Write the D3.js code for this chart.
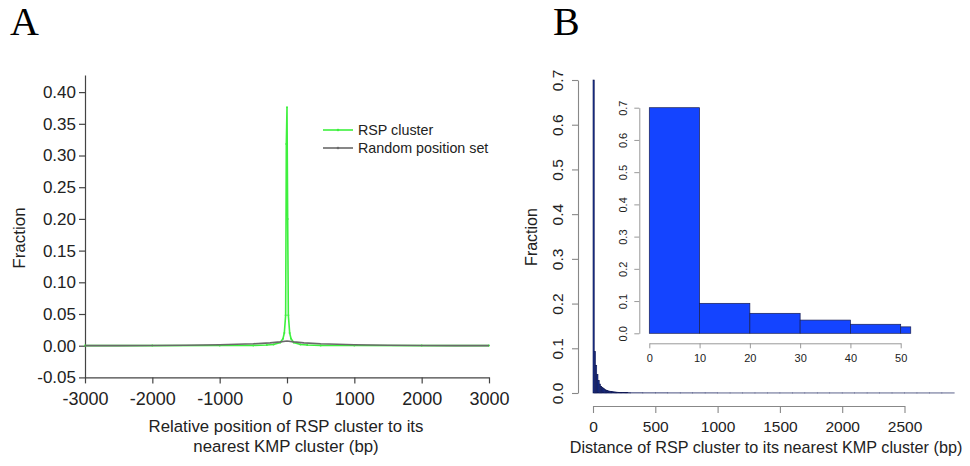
<!DOCTYPE html>
<html><head><meta charset="utf-8">
<script src="https://cdn.jsdelivr.net/npm/d3@7"></script>
<style>body{margin:0;background:#fff;} svg{display:block;}</style>
</head><body>
<svg id="c" width="970" height="466"></svg>
<script>
// ---------- Panel A data ----------
const rspPos   = [-3000,-2000,-1000,-500,-300,-200,-100,-60,-40,-20,-10,0,10,20,40,60,100,200,300,500,1000,2000,3000];
const rspFrac  = [0.0002,0.0002,0.0003,0.0005,0.001,0.002,0.005,0.011,0.02,0.048,0.318,0.376,0.2,0.048,0.02,0.011,0.005,0.002,0.001,0.0005,0.0003,0.0002,0.0002];
const randPos  = [-3000,-2500,-2000,-1500,-1000,-500,-250,-100,0,100,250,500,1000,1500,2000,2500,3000];
const randFrac = [0.0001,0.0002,0.0004,0.0008,0.0015,0.003,0.0045,0.006,0.0075,0.006,0.0045,0.003,0.0015,0.0008,0.0004,0.0002,0.0001];
const aYTicks  = [-0.05,0,0.05,0.10,0.15,0.20,0.25,0.30,0.35,0.40];
const aXTicks  = [-3000,-2000,-1000,0,1000,2000,3000];
const legendLabels = ["RSP cluster","Random position set"];

// ---------- Panel B data ----------
const histBinWidth = 10;
const histFrac = [0.70,0.093,0.062,0.041,0.028,0.020,0.015,0.012,0.010,0.008,
                  0.0065,0.0055,0.0045,0.004,0.0035,0.003,0.0026,0.0023,0.002,0.0018,
                  0.0016,0.0014,0.0012,0.0011,0.001,0.0009,0.0008,0.0007,0.0006,0.0005];
const tailStart = 300, tailBinWidth = 100;
const tailFrac = [0.0004,0.0003,0.0003,0.0002,0.0002,0.0002,0.0002,0.0001,0.0001,0.0001,
                  0.0001,0.0001,0.0001,0.0001,0.0001,0.0001,0.0001,0.0001,0.0001,0.0001,
                  0.0001,0.0001,0.0001,0.0001,0.0001,0.0001];
const bYTicks = [0,0.1,0.2,0.3,0.4,0.5,0.6,0.7];
const bXTicks = [0,500,1000,1500,2000,2500];
const insetBreaks = [0,10,20,30,40,50,52];
const insetFrac = [0.70,0.093,0.062,0.041,0.028,0.020];
const insetYTicks = [0,0.1,0.2,0.3,0.4,0.5,0.6,0.7];
const insetXTicks = [0,10,20,30,40,50];

const svg = d3.select("#c");
const sans = "Liberation Sans, Arial, sans-serif";
const hyph = s => String(s).replace("\u2212","-");

// Panel letters
svg.append("text").attr("x",10).attr("y",35).text("A")
  .attr("font-family","Liberation Serif, serif").attr("font-size",40);
svg.append("text").attr("x",553).attr("y",35).text("B")
  .attr("font-family","Liberation Serif, serif").attr("font-size",40);

// ================= Panel A =================
const ax = d3.scaleLinear().domain([-3000,3000]).range([85,489]);
const ay = d3.scaleLinear().domain([-0.05,0.427]).range([377.4,75]);
const gA = svg.append("g");

const f2 = d3.format(".2f");
const yAxA = gA.append("g").attr("transform","translate(85,0)")
  .call(d3.axisLeft(ay).tickValues(aYTicks).tickFormat(d=>hyph(f2(d))).tickSize(6).tickSizeOuter(0));
const xAxA = gA.append("g").attr("transform","translate(0,377.4)")
  .call(d3.axisBottom(ax).tickValues(aXTicks).tickFormat(d=>hyph(d3.format("d")(d))).tickSize(6).tickSizeOuter(0));
[yAxA,xAxA].forEach(a=>{
  a.selectAll("path,line").attr("stroke","#444").attr("stroke-width",1.2);
  a.selectAll("text").attr("font-family",sans).attr("fill","#222");
});
yAxA.selectAll("text").attr("font-size",17).attr("x",-9);
xAxA.selectAll("text").attr("font-size",18).attr("dy","1.05em");

gA.append("text").attr("transform","translate(25,238) rotate(-90)").attr("text-anchor","middle")
  .attr("font-family",sans).attr("font-size",17).attr("fill","#222").text("Fraction");
gA.append("text").attr("x",286).attr("y",432).attr("text-anchor","middle")
  .attr("font-family",sans).attr("font-size",16.8).attr("fill","#222").text("Relative position of RSP cluster to its");
gA.append("text").attr("x",286).attr("y",452).attr("text-anchor","middle")
  .attr("font-family",sans).attr("font-size",16.8).attr("fill","#222").text("nearest KMP cluster (bp)");

const lineA = d3.line().x(d=>ax(d[0])).y(d=>ay(d[1]));
const rspData = rspPos.map((p,i)=>[p,rspFrac[i]]);
const randData = randPos.map((p,i)=>[p,randFrac[i]]);
const greenC = "#3ef03e", greyC = "#6a6a6a";
gA.append("path").datum(rspData).attr("d",lineA).attr("fill","none").attr("stroke",greenC).attr("stroke-width",1.6);
gA.selectAll(".gd").data(rspData).enter().append("circle")
  .attr("cx",d=>ax(d[0])).attr("cy",d=>ay(d[1])).attr("r",1).attr("fill",greenC);
gA.append("path").datum(randData).attr("d",lineA).attr("fill","none").attr("stroke",greyC).attr("stroke-width",1.6);

// legend
const legColors = [greenC, greyC];
legendLabels.forEach((t,i)=>{
  const y = 130 + i*18;
  gA.append("line").attr("x1",323).attr("x2",353).attr("y1",y).attr("y2",y).attr("stroke",legColors[i]).attr("stroke-width",1.6);
  gA.append("circle").attr("cx",338).attr("cy",y).attr("r",1.3).attr("fill",legColors[i]);
  gA.append("text").attr("x",358).attr("y",y).attr("dy","0.35em").attr("font-family",sans)
    .attr("font-size",14.3).attr("fill","#222").text(t);
});

// ================= Panel B =================
const bx = d3.scaleLinear().domain([0,2500]).range([593,904.5]);
const by = d3.scaleLinear().domain([0,0.7]).range([393,80]);
const gB = svg.append("g");
const mainBars = histFrac.map((v,i)=>({x0:i*histBinWidth,x1:(i+1)*histBinWidth,v}))
  .concat(tailFrac.map((v,i)=>({x0:tailStart+i*tailBinWidth,x1:tailStart+(i+1)*tailBinWidth,v})));
gB.selectAll(".mb").data(mainBars).enter().append("rect")
  .attr("x",d=>bx(d.x0)).attr("width",d=>bx(d.x1)-bx(d.x0))
  .attr("y",d=>by(d.v)).attr("height",d=>by(0)-by(d.v))
  .attr("fill","#1d3595").attr("stroke","#0c1450").attr("stroke-width",0.6);

const yAxB = gB.append("g").attr("transform","translate(578,0)")
  .call(d3.axisLeft(by).tickValues(bYTicks).tickFormat(d3.format(".1f")).tickSize(6).tickSizeOuter(0));
const xAxB = gB.append("g").attr("transform","translate(0,406)")
  .call(d3.axisBottom(bx).tickValues(bXTicks).tickFormat(d3.format("d")).tickSize(7).tickSizeOuter(0));
[yAxB,xAxB].forEach(a=>{
  a.selectAll("path,line").attr("stroke","#888").attr("stroke-width",1.1);
  a.selectAll("text").attr("font-family",sans).attr("fill","#222").attr("font-size",15.5);
});
yAxB.selectAll("text").attr("x",null).attr("dy",null).attr("text-anchor","middle")
  .attr("transform","translate(-15,0) rotate(-90)").attr("dy","0em");
xAxB.selectAll("text").attr("dy","1.05em");

gB.append("text").attr("transform","translate(537,237) rotate(-90)").attr("text-anchor","middle")
  .attr("font-family",sans).attr("font-size",16).attr("fill","#222").text("Fraction");
gB.append("text").attr("x",766).attr("y",453).attr("text-anchor","middle")
  .attr("font-family",sans).attr("font-size",16.2).attr("fill","#222").text("Distance of RSP cluster to its nearest KMP cluster (bp)");

// ---- inset ----
const ix = d3.scaleLinear().domain([0,50]).range([649.3,900.7]);
const iy = d3.scaleLinear().domain([0,0.7]).range([333.3,107.7]);
const gI = svg.append("g");
const insetBars = insetFrac.map((v,i)=>({x0:insetBreaks[i],x1:insetBreaks[i+1],v}));
gI.selectAll(".ib").data(insetBars).enter().append("rect")
  .attr("x",d=>ix(d.x0)).attr("width",d=>ix(d.x1)-ix(d.x0))
  .attr("y",d=>iy(d.v)).attr("height",d=>iy(0)-iy(d.v))
  .attr("fill","#1444ff").attr("stroke","#1a2050").attr("stroke-width",0.7);
const yAxI = gI.append("g").attr("transform","translate(639.3,0)")
  .call(d3.axisLeft(iy).tickValues(insetYTicks).tickFormat(d3.format(".1f")).tickSize(5).tickSizeOuter(0));
const xAxI = gI.append("g").attr("transform","translate(0,343.3)")
  .call(d3.axisBottom(ix).tickValues(insetXTicks).tickFormat(d3.format("d")).tickSize(5).tickSizeOuter(0));
[yAxI,xAxI].forEach(a=>{
  a.selectAll("path,line").attr("stroke","#999").attr("stroke-width",1);
  a.selectAll("text").attr("font-family",sans).attr("fill","#222").attr("font-size",11);
});
yAxI.selectAll("text").attr("x",null).attr("dy",null).attr("text-anchor","middle")
  .attr("transform","translate(-12,0) rotate(-90)");
xAxI.selectAll("text").attr("dy","0.95em");
</script>
</body></html>
